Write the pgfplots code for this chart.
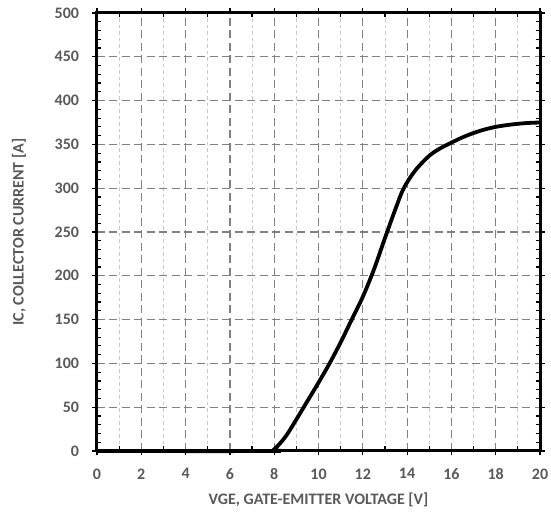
\documentclass[border=0pt]{standalone}
\usepackage{pgfplots}
\pgfplotsset{compat=1.18}
\usepackage{fontspec}
\setmainfont{Carlito}
\definecolor{lblgray}{HTML}{595959}
\definecolor{majgrid}{HTML}{808080}
\definecolor{mingrid}{HTML}{C8C8C8}
\begin{document}
\begin{tikzpicture}[font=\fontsize{16bp}{19bp}\selectfont\bfseries]
\begin{axis}[
  name=ax,
  scale only axis,
  width=443bp, height=438bp,
  xmin=0, xmax=20, ymin=0, ymax=500,
  xtick={0,2,...,20}, ytick={0,50,...,500},
  minor xtick={1,3,...,19},
  minor ytick={10,20,30,40,60,70,80,90,110,120,130,140,160,170,180,190,210,220,230,240,260,270,280,290,310,320,330,340,360,370,380,390,410,420,430,440,460,470,480,490},
  xmajorgrids, ymajorgrids, xminorgrids,
  major grid style={majgrid, line width=1.2bp, dash pattern=on 8bp off 4.5bp},
  minor grid style={mingrid, line width=0.9bp, dash pattern=on 3.5bp off 3bp},
  axis line style={black, line width=3bp},
  tick align=outside,
  major tick length=4.5bp,
  minor tick length=-4.5bp,
  tick style={black, line width=1.2bp},
  tick label style={font=\fontsize{16bp}{19bp}\selectfont\bfseries, color=lblgray},
  /pgf/number format/assume math mode=true,
  xticklabel style={yshift=-9.5bp},
  yticklabel style={xshift=-10bp},
  xlabel={VGE, GATE-EMITTER VOLTAGE [V]},
  ylabel={IC, COLLECTOR CURRENT [A]},
  label style={font=\fontsize{16bp}{19bp}\selectfont\bfseries, color=lblgray},
  xlabel style={at={(axis description cs:0.5,0)}, anchor=center, yshift=-48.5bp},
  ylabel style={at={(axis description cs:0,0.5)}, anchor=center, rotate=0, yshift=78bp},
  clip=false,
]
\addplot[black, line width=3.8bp, smooth, tension=0.55] coordinates {
(0,0) (7.7,0) (8,2) (8.5,16) (9,36) (9.5,57) (10,78) (10.5,100) (11,124)
(11.5,150) (12,176) (12.5,207) (13,243) (13.5,278) (13.85,300)
(14.36,320) (15,337) (15.5,345.5) (16,352) (16.5,358) (17,363) (17.5,367)
(18,370) (18.5,372) (19,373.5) (19.5,374.5) (20,375)
};
\end{axis}
\pgfresetboundingbox
\path ([xshift=-97bp,yshift=-62bp]ax.south west) rectangle ([xshift=11bp,yshift=13bp]ax.north east);
\end{tikzpicture}
\end{document}
